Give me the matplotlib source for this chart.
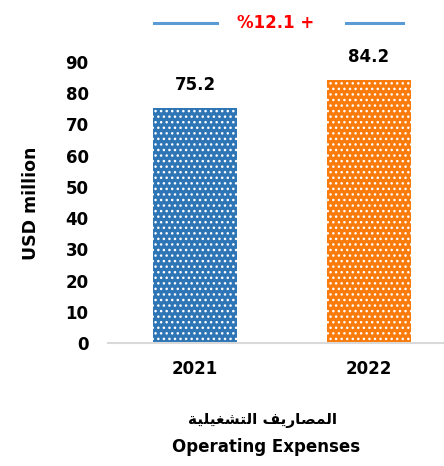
import matplotlib
matplotlib.use("Agg")
import matplotlib.pyplot as plt

plt.rcParams['font.family'] = ['DejaVu Sans']
plt.rcParams['hatch.linewidth'] = 1.0

categories = ["2021", "2022"]
values = [75.2, 84.2]
value_labels = ["75.2", "84.2"]
colors = ["#2E75B6", "#F97B0B"]
yticks = [0, 10, 20, 30, 40, 50, 60, 70, 80, 90]
change_label = "%12.1 +"
# Arabic title pre-shaped in visual order (presentation forms)
title_ar = "\uFE94\uFEF4\uFEE0\uFEF4\uFED0\uFEB8\uFE98\uFEDF\uFE8D \uFED2\uFEF3\uFEAD\uFE8E\uFEBC\uFEE4\uFEDF\uFE8D"
title_en = "Operating Expenses"
ylabel = "USD million"

W, H = 444, 466
fig = plt.figure(figsize=(W / 100, H / 100), dpi=100)
ax = fig.add_axes([108 / W, (H - 343) / H, (W - 108) / W, (343 - 62) / H])

x = list(range(len(categories)))
bars = ax.bar(x, values, width=0.484, color=colors, edgecolor="white",
              linewidth=0, hatch="...")

ax.set_xlim(-0.501, 1.435)
ax.set_ylim(0, 90)
ax.set_yticks(yticks)
ax.set_yticklabels([str(t) for t in yticks], fontsize=12, fontweight="bold")
ax.set_xticks(x)
ax.set_xticklabels(categories, fontsize=12, fontweight="bold")
ax.tick_params(axis="y", length=0, pad=14)
ax.tick_params(axis="x", length=0, pad=12)

for s in ["top", "right", "left"]:
    ax.spines[s].set_visible(False)
ax.spines["bottom"].set_color("#D9D9D9")
ax.spines["bottom"].set_linewidth(1.5)

for xi, v, lab in zip(x, values, value_labels):
    ax.annotate(lab, (xi, v), xytext=(0, 10), textcoords="offset points",
                ha="center", va="bottom", fontsize=12, fontweight="bold")

fig.text(31 / W, 1 - 203 / H, ylabel, rotation=90, ha="center", va="center",
         fontsize=12.5, fontweight="bold")

fig.text(263 / W, 1 - 421 / H, title_ar, ha="center", va="center",
         fontsize=11, fontweight="bold")
fig.text(266 / W, 1 - 447 / H, title_en, ha="center", va="center",
         fontsize=12, fontweight="bold")

# top change indicator
fig.add_artist(plt.Line2D([154 / W, 217 / W], [1 - 23 / H, 1 - 23 / H],
                          color="#5B9BD5", linewidth=2.2))
fig.add_artist(plt.Line2D([346 / W, 403 / W], [1 - 23 / H, 1 - 23 / H],
                          color="#5B9BD5", linewidth=2.2))
fig.text(276 / W, 1 - 23 / H, change_label, ha="center", va="center",
         fontsize=12, fontweight="bold", color="#FF0000")

fig.savefig("out.png", dpi=100)
